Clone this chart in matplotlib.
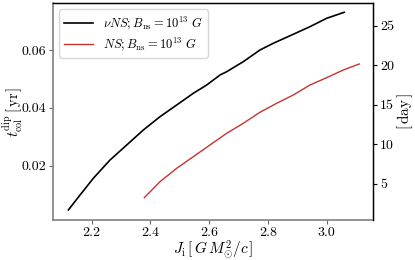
import matplotlib
matplotlib.use("Agg")
import matplotlib.pyplot as plt
import numpy as np

plt.rcParams['font.family'] = 'serif'
plt.rcParams['font.serif'] = ['cmr10']
plt.rcParams['mathtext.fontset'] = 'cm'
plt.rcParams['axes.formatter.use_mathtext'] = True

# nu NS curve
j_nuns = [2.1203, 2.1602, 2.2054, 2.2623, 2.3191, 2.3757, 2.4325, 2.4894, 2.5459, 2.5915,
          2.6368, 2.6596, 2.7161, 2.7729, 2.8182, 2.8863, 2.9432, 3.0000, 3.0599]
t_nuns = [0.00467, 0.00986, 0.01564, 0.02197, 0.02716, 0.03235, 0.03696, 0.04100, 0.04505, 0.04792,
          0.05138, 0.05253, 0.05599, 0.06003, 0.06235, 0.06547, 0.06810, 0.07100, 0.07308]
# NS curve
j_ns = [2.3791, 2.4325, 2.4894, 2.5459, 2.6027, 2.6596, 2.7161, 2.7729, 2.8298, 2.8863,
        2.9432, 3.0000, 3.0565, 3.1110]
t_ns = [0.00893, 0.01446, 0.01910, 0.02311, 0.02716, 0.03121, 0.03467, 0.03848, 0.04159, 0.04446,
        0.04792, 0.05045, 0.05311, 0.05519]

xticks = [2.2, 2.4, 2.6, 2.8, 3.0]
yticks = [0.02, 0.04, 0.06]
yticks_day = [5, 10, 15, 20, 25]
yr_to_day = 365.25

fig = plt.figure(figsize=(4.15, 2.6), dpi=100)
ax = fig.add_axes([53/415, 40/260, 320/415, 217/260])
ax.plot(j_nuns, t_nuns, color='black', lw=1.2, label=r'$\nu NS; B_{\rm ns}=10^{13}\ G$')
ax.plot(j_ns, t_ns, color='#c83232', lw=1.0, label=r'$NS; B_{\rm ns}=10^{13}\ G$')
ax.set_xlim(2.068, 3.158)
ax.set_ylim(0.0012, 0.0763)
ax.set_xticks(xticks)
ax.set_xticklabels([f'{v:.1f}' for v in xticks])
ax.set_yticks(yticks)
ax.set_yticklabels([f'{v:.2f}' for v in yticks])
ax.tick_params(labelsize=10, length=3, width=0.8, color='0.4', pad=2)
ax.set_xlabel(r'$J_{\rm i}\,[\,G\,M_{\odot}^2/c\,]$', fontsize=11)
ax.set_ylabel(r'$t_{\rm col}^{\rm dip}\,[\,{\rm yr}\,]$', fontsize=10.5)
ax.xaxis.set_label_coords(0.5, -0.085)
ax.yaxis.set_label_coords(-0.092, 0.5)
for s in ['left', 'bottom']:
    ax.spines[s].set_color('0.5')
    ax.spines[s].set_linewidth(1.2)
for s in ['top', 'right']:
    ax.spines[s].set_linewidth(1.0)
leg = ax.legend(loc='upper left', fontsize=9, frameon=True, handlelength=2.3,
                borderaxespad=0.5, labelspacing=0.3, borderpad=0.4)
leg.get_frame().set_edgecolor('0.8')

ax2 = ax.twinx()
lo, hi = ax.get_ylim()
ax2.set_ylim(lo * yr_to_day, hi * yr_to_day)
ax2.set_yticks(yticks_day)
ax2.set_yticklabels([str(v) for v in yticks_day])
ax2.tick_params(labelsize=10, length=3, width=0.8, pad=2)
ax2.set_ylabel(r'$[\,{\rm day}\,]$', fontsize=11)
ax2.yaxis.set_label_coords(1.07, 0.5)
ax2.spines['left'].set_visible(False)
ax2.spines['bottom'].set_visible(False)

fig.savefig('out.png', dpi=100)
